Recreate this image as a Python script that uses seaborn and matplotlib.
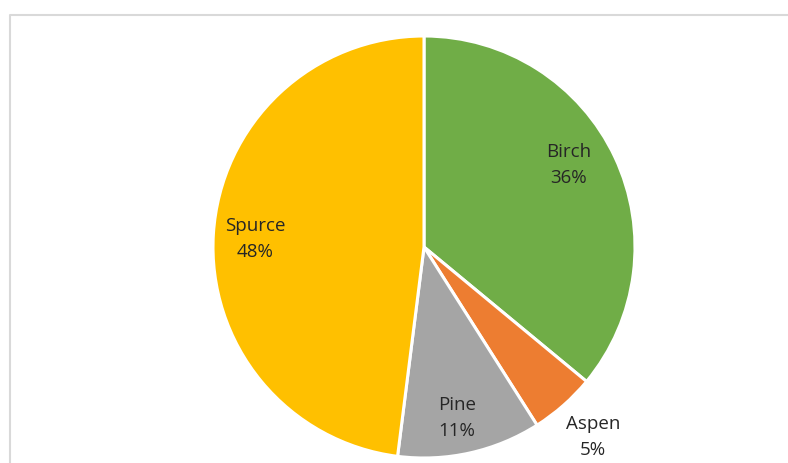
import matplotlib
matplotlib.use("Agg")
import matplotlib.pyplot as plt
from matplotlib.lines import Line2D
import numpy as np
import seaborn as sns

species = ["Birch", "Aspen", "Pine", "Spurce"]
shares = [36, 5, 11, 48]
colors = ["#70AD47", "#ED7D31", "#A5A5A5", "#FFC000"]
# label placement: radius (in pie radii) and angular nudge (degrees)
label_radius = [0.787, 1.205, 0.825, 0.80]
label_nudge = [4.5, 0.3, -1.7, 0.9]

sns.set_theme(style="white")
plt.rcParams["font.family"] = ["Open Sans", "DejaVu Sans"]
palette = sns.color_palette(colors)

W, H = 788, 463
fig = plt.figure(figsize=(W / 100, H / 100), dpi=100)
fig.patch.set_facecolor("white")

# chart area border (top and left edges)
fig.add_artist(Line2D([9.5 / W, 9.5 / W, 1.0], [0.0, 1 - 15 / H, 1 - 15 / H],
                      transform=fig.transFigure, color="#D9D9D9", lw=1.5))

cx, cy, r = 424, 247, 211
ax = fig.add_axes([(cx - r) / W, (H - cy - r) / H, 2 * r / W, 2 * r / H])
wedges, _ = ax.pie(shares, colors=palette, startangle=90, counterclock=False,
                   radius=1.0, wedgeprops=dict(edgecolor="white", linewidth=2.2))
ax.set_xlim(-1, 1)
ax.set_ylim(-1, 1)
ax.set_aspect("equal")
ax.axis("off")

total = sum(shares)
start = 90.0
for name, v, lr, nd in zip(species, shares, label_radius, label_nudge):
    span = 360.0 * v / total
    mid = np.deg2rad(start - span / 2 + nd)
    start -= span
    ax.text(lr * np.cos(mid), lr * np.sin(mid), f"{name}\n{v}%",
            ha="center", va="center", fontsize=13.5, color="#262626",
            linespacing=1.6, clip_on=False)

fig.savefig("out.png", dpi=100, facecolor="white")
